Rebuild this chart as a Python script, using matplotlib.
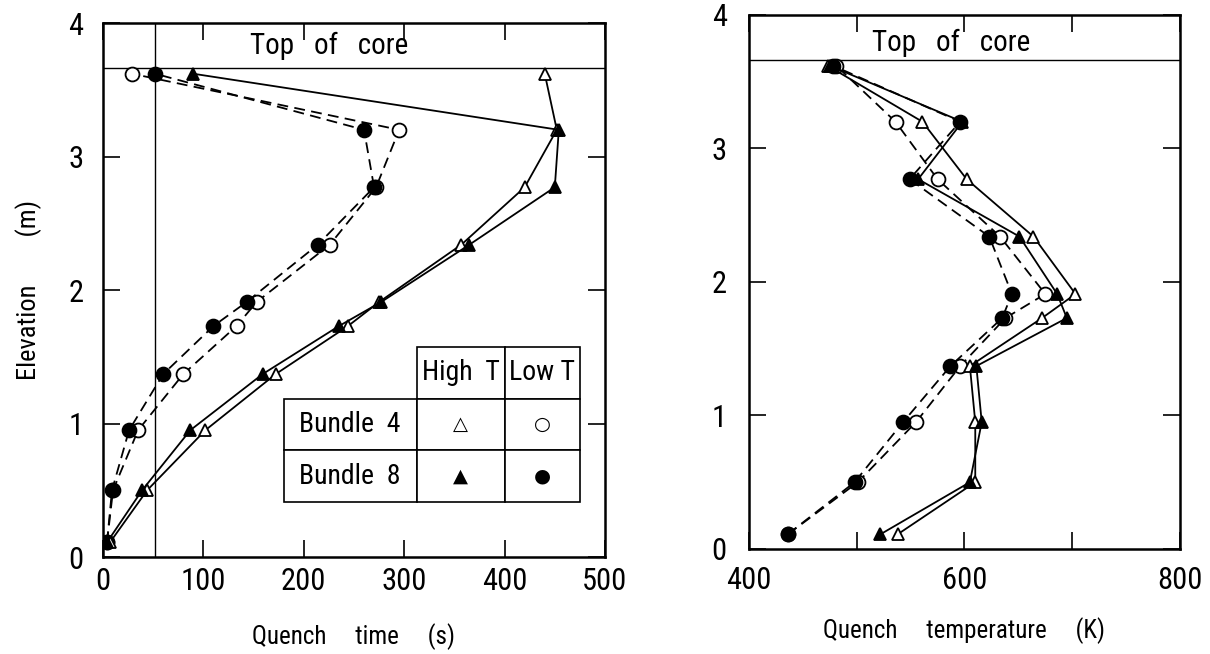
import matplotlib
matplotlib.use("Agg")
import matplotlib.pyplot as plt
from matplotlib.ticker import MultipleLocator

plt.rcParams["font.family"] = ["Roboto Condensed", "DejaVu Sans"]

# ====== DATA ======
ELEVATION = [0.11, 0.50, 0.95, 1.37, 1.73, 1.91, 2.34, 2.77, 3.20, 3.62]
TOP_OF_CORE = 3.66
REF_TIME = 52

# quench time (s)
time_b4_high = [7, 44, 102, 172, 244, 275, 357, 420, 452, 440]
time_b8_high = [4, 39, 87, 159, 235, 277, 365, 450, 454, 90]
time_b4_low = [4, 10, 35, 80, 133, 153, 226, 272, 295, 29]
time_b8_low = [4, 9, 26, 60, 110, 143, 214, 270, 260, 52]

# quench temperature (K)
temp_b4_high = [538, 610, 610, 605, 672, 703, 664, 602, 561, 473]
temp_b8_high = [522, 605, 616, 611, 695, 686, 651, 557, 598, 475]
temp_b4_low = [436, 501, 555, 596, 638, 675, 633, 575, 536, 481]
temp_b8_low = [436, 498, 543, 587, 635, 644, 623, 549, 596, 478]

TABLE_ROWS = ["Bundle  4", "Bundle  8"]
TABLE_COLS = ["High  T", "Low T"]
TABLE_SYMBOLS = [["\u25b3", "\u25cb"], ["\u25b2", "\u25cf"]]

LINE_KW = dict(color="black", lw=1.3)
DASH = (0, (6, 3.5))


def draw_series(ax, x, y, marker, filled, dashed):
    ax.plot(
        x, y,
        marker=marker,
        ms=10 if marker == "o" else 9,
        mfc="black" if filled else "white",
        mec="black",
        mew=1.3,
        ls=DASH if dashed else "-",
        **LINE_KW,
    )


def style_axes(ax, ylabel_pad, xlabel_pad):
    for s in ax.spines.values():
        s.set_linewidth(1.8)
    ax.tick_params(which="both", direction="in", top=True, right=True,
                   length=12, width=1.2, labelsize=22)
    ax.tick_params(axis="y", pad=ylabel_pad)
    ax.tick_params(axis="x", pad=xlabel_pad)
    ax.set_ylim(0, 4)
    ax.yaxis.set_major_locator(MultipleLocator(1))


def add_table(ax):
    cell_text = [[""] + TABLE_COLS]
    for name, syms in zip(TABLE_ROWS, TABLE_SYMBOLS):
        cell_text.append([name] + syms)
    tbl = ax.table(cellText=cell_text, cellLoc="center",
                   colWidths=[133, 88, 75],
                   bbox=[0.36, 0.103, 0.59, 0.29])
    tbl.auto_set_font_size(False)
    for (r, c), cell in tbl.get_celld().items():
        cell.set_linewidth(1.2)
        cell.set_facecolor("white")
        if r == 0 and c == 0:
            cell.visible_edges = ""
        elif c > 0 and r > 0:
            cell.get_text().set_fontsize(14)
            cell.get_text().set_family(["DejaVu Sans"])
        else:
            cell.get_text().set_fontsize(20)
    return tbl


def main():
    fig = plt.figure(figsize=(12.1, 6.54), dpi=100)

    # ---- left: quench time ----
    ax1 = fig.add_axes([0.0851, 0.1483, 0.4149, 0.8165])
    ax1.axhline(TOP_OF_CORE, color="black", lw=1.0)
    ax1.axvline(REF_TIME, color="black", lw=1.0)
    draw_series(ax1, time_b4_low, ELEVATION, "o", False, True)
    draw_series(ax1, time_b8_low, ELEVATION, "o", True, True)
    draw_series(ax1, time_b4_high, ELEVATION, "^", False, False)
    draw_series(ax1, time_b8_high, ELEVATION, "^", True, False)
    ax1.set_xlim(0, 500)
    ax1.xaxis.set_major_locator(MultipleLocator(100))
    style_axes(ax1, ylabel_pad=14, xlabel_pad=7)
    ax1.text(225, 3.83, "Top   of   core", ha="center", va="center", fontsize=21)
    ax1.set_xlabel("Quench     time     (s)", fontsize=18, labelpad=20)
    ax1.set_ylabel("Elevation        (m)", fontsize=19, labelpad=19)
    add_table(ax1)

    # ---- right: quench temperature ----
    ax2 = fig.add_axes([0.619, 0.1606, 0.3562, 0.8165])
    ax2.axhline(TOP_OF_CORE, color="black", lw=1.0)
    draw_series(ax2, temp_b4_low, ELEVATION, "o", False, True)
    draw_series(ax2, temp_b8_low, ELEVATION, "o", True, True)
    draw_series(ax2, temp_b4_high, ELEVATION, "^", False, False)
    draw_series(ax2, temp_b8_high, ELEVATION, "^", True, False)
    ax2.set_xlim(400, 800)
    ax2.set_xticks([400, 500, 600, 700, 800])
    ax2.set_xticklabels(["400", "", "600", "", "800"])
    style_axes(ax2, ylabel_pad=16, xlabel_pad=12)
    ax2.text(588, 3.79, "Top   of   core", ha="center", va="center", fontsize=21)
    ax2.set_xlabel("Quench     temperature     (K)", fontsize=18, labelpad=16)

    fig.savefig("out.png", dpi=100)
    plt.close(fig)


if __name__ == "__main__":
    main()
